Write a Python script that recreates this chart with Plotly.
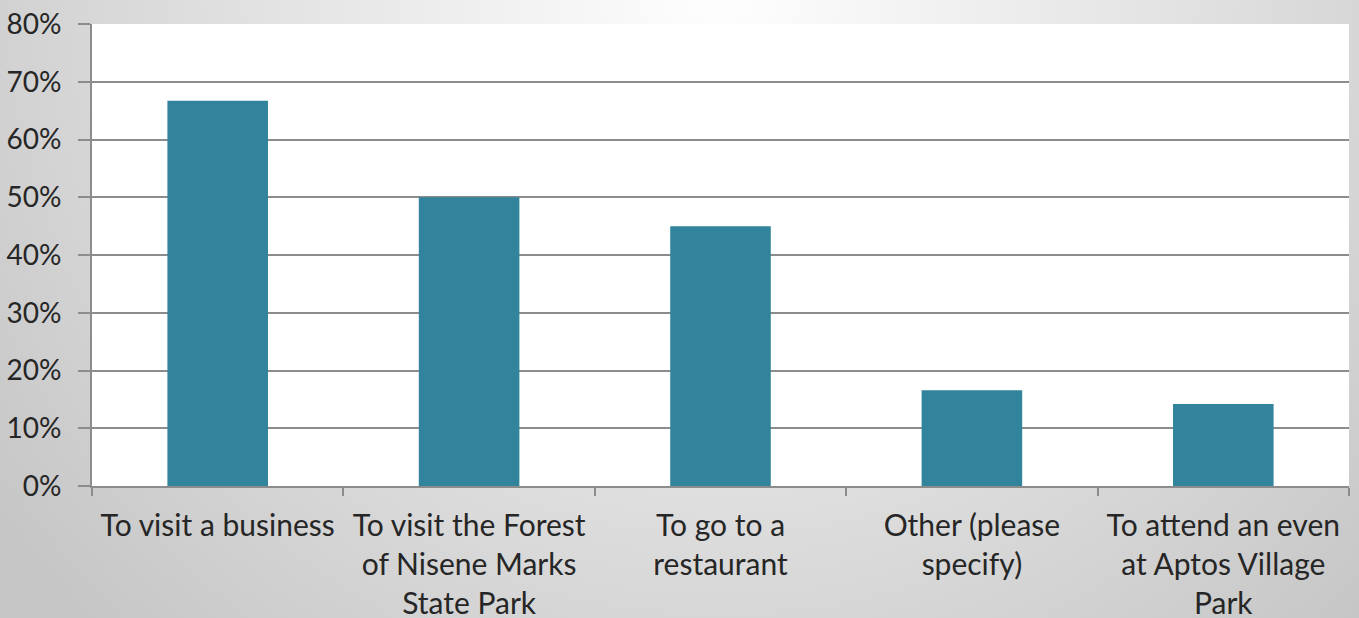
import plotly.graph_objects as go

categories = [
    "To visit a business",
    "To visit the Forest<br>of Nisene Marks<br>State Park",
    "To go to a<br>restaurant",
    "Other (please<br>specify)",
    "To attend an even<br>at Aptos Village<br>Park",
]
values = [0.667, 0.50, 0.45, 0.166, 0.142]
y_ticks = [0, 0.1, 0.2, 0.3, 0.4, 0.5, 0.6, 0.7, 0.8]
y_labels = ["0%", "10%", "20%", "30%", "40%", "50%", "60%", "70%", "80%"]

W, H = 1359, 618
L, R, T, B = 92, 10, 24, 132
pw, ph = W - L - R, H - T - B

# soft grey radial background, light near the top centre
bg_svg = (
    "data:image/svg+xml;utf8,"
    "<svg xmlns='http://www.w3.org/2000/svg' width='1359' height='618'>"
    "<defs><radialGradient id='g' gradientUnits='userSpaceOnUse' cx='720' cy='-20' r='900'>"
    "<stop offset='0' stop-color='%23ffffff'/><stop offset='1' stop-color='%23c6c6c6'/>"
    "</radialGradient></defs><rect width='1359' height='618' fill='url(%23g)'/></svg>"
)

fig = go.Figure(go.Bar(x=categories, y=values, marker_color="#31849b",
                       marker_line_width=0, hoverinfo="x+y"))

axis_grey = "#8c8c8c"
fig.update_layout(
    width=W, height=H,
    margin=dict(l=L, r=R, t=T, b=B, pad=0, autoexpand=False),
    paper_bgcolor="#d8d8d8", plot_bgcolor="white",
    bargap=0.6, showlegend=False,
    font=dict(family="Lato, Open Sans, sans-serif", size=30, color="#262626"),
    images=[dict(source=bg_svg, xref="paper", yref="paper",
                 x=-L / pw, y=1 + T / ph, sizex=W / pw, sizey=H / ph,
                 xanchor="left", yanchor="top", sizing="stretch", layer="below")],
    shapes=[dict(type="rect", xref="paper", yref="paper", x0=0, x1=1, y0=0, y1=1,
                 fillcolor="white", line_width=0, layer="below")],
)
fig.update_yaxes(range=[0, 0.8], tickvals=y_ticks, ticktext=y_labels,
                 tickfont=dict(size=28), ticklabelstandoff=11, automargin=False,
                 showgrid=True, gridcolor=axis_grey, gridwidth=2,
                 showline=True, linecolor=axis_grey, linewidth=2,
                 ticks="outside", ticklen=12, tickcolor=axis_grey, tickwidth=2,
                 zeroline=False)
fig.update_xaxes(showline=True, linecolor=axis_grey, linewidth=2,
                 ticks="outside", tickson="boundaries", ticklen=8,
                 tickcolor=axis_grey, tickwidth=2, tickangle=0,
                 ticklabelstandoff=12, automargin=False)

fig.write_html("out.html", config={"displayModeBar": False},
               post_script="document.body.style.margin='0';")
